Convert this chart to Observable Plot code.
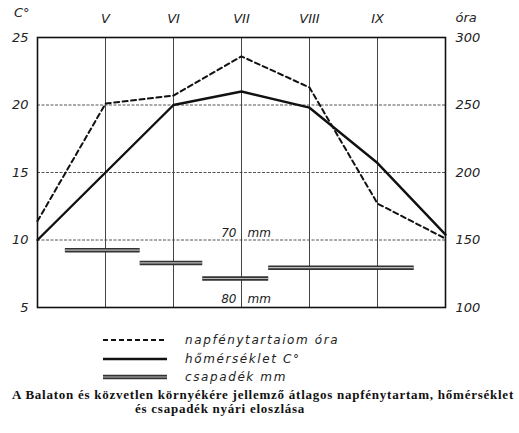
<!DOCTYPE html>
<html>
<head>
<meta charset="utf-8">
<script src="https://cdn.jsdelivr.net/npm/d3@7"></script>
<script src="https://cdn.jsdelivr.net/npm/@observablehq/plot@0.6"></script>
<style>
  html, body { margin: 0; padding: 0; background: #fff; width: 519px; height: 433px; overflow: hidden; position: relative; }
  #chart { position: absolute; left: 0; top: 0; }
  .cap { position: absolute; font-family: "Liberation Serif", serif; font-weight: bold; font-size: 13px; letter-spacing: 0.75px; color: #111; white-space: nowrap; }
</style>
</head>
<body>
<div id="chart"></div>
<div id="legend"></div>
<div class="cap" style="left:12px; top:387px;">A Balaton és közvetlen környékére jellemző átlagos napfénytartam, hőmérséklet</div>
<div class="cap" style="left:135px; top:401px;">és csapadék nyári eloszlása</div>
<script>
// x positions: 0 = left edge, 1..5 = months V..IX, 6 = right edge
const monthPos = [0, 1, 2, 3, 4, 5, 6];
const monthLabels = ["V", "VI", "VII", "VIII", "IX"];
const monthLabelPos = [1, 2, 3, 4, 5];
const temperature = [10, 15, 20, 21, 19.8, 15.7, 10.4];          // °C
const sunshine = [164, 251, 257, 286, 263, 177, 151];            // hours (óra)
const precipStart = [0.41, 1.51, 2.43, 3.40];
const precipEnd = [1.51, 2.43, 3.40, 5.54];
const precipMm = [71.5, 73.4, 75.7, 74.1];                       // mm
const cTicks = [25, 20, 15, 10, 5];
const hourTicks = [300, 250, 200, 150, 100];
const gridC = [20, 15, 10];

const hToC = h => (h - 50) / 10;          // 100..300 óra -> 5..25 °C
const mmToC = mm => 10 - (mm - 70) / 2;   // 70 mm at 10, 80 mm at 5

const tempData = monthPos.map((x, i) => ({x, y: temperature[i]}));
const sunData = monthPos.map((x, i) => ({x, y: hToC(sunshine[i])}));
const precipData = precipMm.map((mm, i) => ({x1: precipStart[i], x2: precipEnd[i], y: mmToC(mm)}));

const font = {fontFamily: "DejaVu Sans, sans-serif", fontStyle: "italic", fontSize: 13, fill: "#222"};

const plot = Plot.plot({
  width: 519,
  height: 320,
  marginLeft: 37,
  marginRight: 74,
  marginTop: 37,
  marginBottom: 13,
  x: {domain: [0, 6], axis: null},
  y: {domain: [5, 25], axis: null},
  style: {background: "transparent", overflow: "visible"},
  marks: [
    Plot.ruleY(gridC, {stroke: "#555", strokeWidth: 1, strokeDasharray: "3,1.5"}),
    Plot.ruleX(monthLabelPos, {stroke: "#444", strokeWidth: 1}),
    Plot.ruleY(precipData, {x1: "x1", x2: "x2", y: "y", stroke: "#333", strokeWidth: 4.5}),
    Plot.ruleY(precipData, {x1: "x1", x2: "x2", y: "y", stroke: "#bbb", strokeWidth: 1.2}),
    Plot.line(sunData, {x: "x", y: "y", stroke: "#111", strokeWidth: 2, strokeDasharray: "5,3.5"}),
    Plot.line(tempData, {x: "x", y: "y", stroke: "#111", strokeWidth: 2.4}),
    Plot.frame({stroke: "#111", strokeWidth: 1.6}),
    Plot.text(cTicks, {x: 0, y: d => d, text: d => String(d), textAnchor: "end", dx: -9, ...font}),
    Plot.text(hourTicks, {x: 6, y: d => hToC(d), text: d => String(d), textAnchor: "start", dx: 10, ...font}),
    Plot.text(monthLabelPos, {x: d => d, y: 25, text: (d, i) => monthLabels[i], dy: -19, ...font}),
    Plot.text(["C°"], {x: 0, y: 25, text: d => d, textAnchor: "end", dx: -8, dy: -25, ...font}),
    Plot.text(["óra"], {x: 6, y: 25, text: d => d, textAnchor: "start", dx: 10, dy: -20, ...font}),
    Plot.text(["70"], {x: 3, y: 10, text: d => d, textAnchor: "end", dx: -5, dy: -7, ...font, fontSize: 12}),
    Plot.text(["mm"], {x: 3, y: 10, text: d => d, textAnchor: "start", dx: 6, dy: -7, ...font, fontSize: 12}),
    Plot.text(["80"], {x: 3, y: 5, text: d => d, textAnchor: "end", dx: -5, dy: -8, ...font, fontSize: 12}),
    Plot.text(["mm"], {x: 3, y: 5, text: d => d, textAnchor: "start", dx: 6, dy: -8, ...font, fontSize: 12})
  ]
});
document.getElementById("chart").appendChild(plot);

// Legend
const legendItems = [
  {label: "napfénytartaiom óra", type: "dash", y: 340},
  {label: "hőmérséklet C°", type: "solid", y: 359},
  {label: "csapadék mm", type: "double", y: 377}
];
const leg = document.getElementById("legend");
const ns = "http://www.w3.org/2000/svg";
const svg = document.createElementNS(ns, "svg");
svg.setAttribute("width", 519);
svg.setAttribute("height", 433);
svg.style.position = "absolute";
svg.style.left = "0"; svg.style.top = "0";
legendItems.forEach(it => {
  const mk = (w, c, dash) => {
    const l = document.createElementNS(ns, "line");
    l.setAttribute("x1", 103); l.setAttribute("x2", 167);
    l.setAttribute("y1", it.y); l.setAttribute("y2", it.y);
    l.setAttribute("stroke", c); l.setAttribute("stroke-width", w);
    if (dash) l.setAttribute("stroke-dasharray", dash);
    svg.appendChild(l);
  };
  if (it.type === "dash") mk(2.2, "#111", "5,3");
  if (it.type === "solid") mk(2.6, "#111");
  if (it.type === "double") { mk(4.5, "#333"); mk(1.2, "#bbb"); }
  const t = document.createElementNS(ns, "text");
  t.setAttribute("x", 185); t.setAttribute("y", it.y);
  t.setAttribute("dy", "0.35em");
  t.setAttribute("font-family", "DejaVu Sans, sans-serif");
  t.setAttribute("font-style", "italic");
  t.setAttribute("font-size", 12);
  t.setAttribute("letter-spacing", 1.6);
  t.setAttribute("fill", "#222");
  t.textContent = it.label;
  svg.appendChild(t);
});
leg.appendChild(svg);
</script>
</body>
</html>
